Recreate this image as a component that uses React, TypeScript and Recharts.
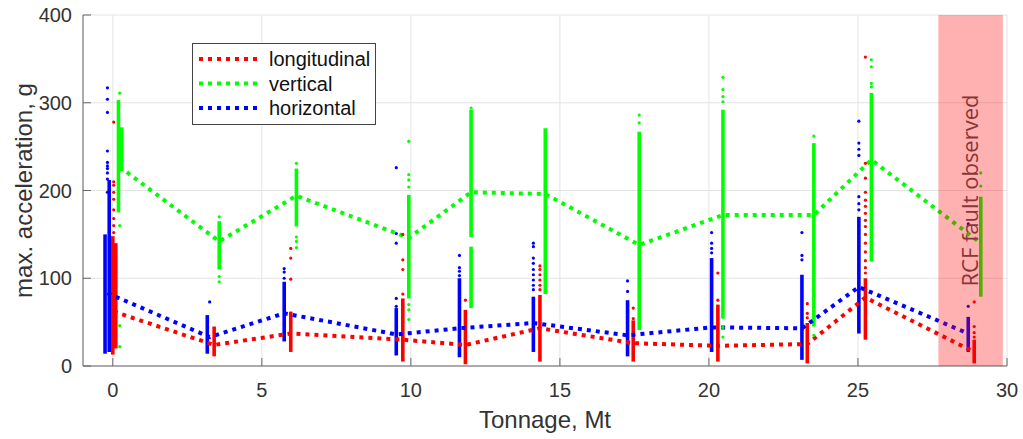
import {
  ComposedChart, Line, Scatter, XAxis, YAxis, CartesianGrid,
  ReferenceLine, ReferenceArea, Legend,
} from 'recharts'

const X_TICKS = [0, 5, 10, 15, 20, 25, 30]
const Y_TICKS = [0, 100, 200, 300, 400]

const FONT = '"Liberation Sans", Arial, sans-serif'

const COLOR = {
  longitudinal: '#ff0000',
  vertical: '#00ff00',
  horizontal: '#0000ff',
}
const LEGEND_NAMES = ['longitudinal', 'vertical', 'horizontal'] as const

// mean acceleration per measurement run (tonnage in Mt, value in g)
const LONG_X = [0.03, 3.4, 5.97, 9.73, 11.83, 14.33, 17.46, 20.3, 23.3, 25.25, 28.9]
const LONG_MEAN = [62, 24, 37, 30, 24, 43, 26, 23, 25, 78, 16]
const VERT_X = [0.23, 3.57, 6.16, 9.93, 12.02, 14.51, 17.66, 20.47, 23.52, 25.45, 29.12]
const VERT_MEAN = [227, 142, 194, 146, 198, 196, 138, 172, 172, 235, 140]
const HORIZ_X = [-0.18, 3.25, 5.75, 9.51, 11.63, 14.11, 17.27, 20.09, 23.12, 25.03, 28.7]
const HORIZ_MEAN = [83, 33, 60, 36, 43, 49, 35, 44, 43, 90, 37]

// dense runs of samples: [tonnage, lowest g, highest g]
const LONG_BANDS = [
  [0.0, 13, 148], [0.1, 20, 140], [3.4, 11, 45], [5.97, 16, 62], [9.73, 5, 77],
  [11.83, 2, 64], [14.33, 5, 81], [17.46, 5, 52], [20.3, 5, 70], [23.3, 3, 49],
  [25.25, 30, 100], [28.9, 3, 30],
]
const VERT_BANDS = [
  [0.19, 175, 303], [0.3, 222, 272], [3.57, 110, 165], [6.16, 159, 225], [9.93, 77, 195],
  [12.02, 147, 292], [12.02, 66, 136], [14.51, 82, 271], [17.66, 41, 267], [20.47, 54, 292],
  [23.52, 45, 254], [25.45, 119, 311], [29.12, 79, 193],
]
const HORIZ_BANDS = [
  [-0.26, 14, 150], [-0.12, 16, 212], [3.17, 14, 58], [5.75, 28, 96], [9.51, 12, 66],
  [11.63, 10, 100], [14.11, 16, 79], [17.27, 11, 75], [20.09, 16, 123], [23.12, 7, 104],
  [25.03, 37, 170], [28.7, 16, 56],
]

// isolated samples outside the dense runs, per run
const LONG_PTS = [
  [152, 160, 168, 178, 190, 198, 206, 210, 278], [], [99, 123, 134], [82, 110, 121, 150],
  [75], [87, 92, 98, 104, 110, 114], [54, 66], [75, 106], [55, 60, 71],
  [106, 112, 120, 130, 140, 150, 159, 166, 174, 182, 189, 198, 214, 231, 352], [33, 38, 45, 73],
]
const VERT_PTS = [
  [22, 46, 160, 311], [96, 102, 170], [135, 142, 147, 231], [53, 64, 70, 204, 212, 218, 256],
  [294], [], [277, 286], [33, 44, 301, 307, 315, 329], [35, 262], [318, 322, 341, 349], [205, 220],
]
const HORIZ_PTS = [
  [198, 213, 220, 225, 228, 232, 245, 289, 304, 317], [73], [100, 107, 111], [68, 77, 140, 151, 226],
  [103, 108, 112, 126], [87, 92, 98, 104, 110, 117, 123, 136, 140], [85, 97], [129, 134, 140, 152],
  [121, 126, 152], [178, 185, 193, 240, 247, 254, 279], [68, 162],
]

const FAULT_ZONE = [27.7, 29.86]

const toLine = (xs: number[], ys: number[]) => xs.map((x, i) => ({ x, y: ys[i] }))
const toPts = (xs: number[], pts: number[][]) =>
  xs.flatMap((x, i) => pts[i].map((y) => ({ x, y })))

const SERIES = [
  { name: 'longitudinal', color: COLOR.longitudinal, line: toLine(LONG_X, LONG_MEAN), pts: toPts(LONG_X, LONG_PTS), bands: LONG_BANDS },
  { name: 'vertical', color: COLOR.vertical, line: toLine(VERT_X, VERT_MEAN), pts: toPts(VERT_X, VERT_PTS), bands: VERT_BANDS },
  { name: 'horizontal', color: COLOR.horizontal, line: toLine(HORIZ_X, HORIZ_MEAN), pts: toPts(HORIZ_X, HORIZ_PTS), bands: HORIZ_BANDS },
]

function LegendBox() {
  return (
    <svg width={184} height={82} style={{ display: 'block' }}>
      <rect x={0.5} y={0.5} width={183} height={81} fill="#fff" stroke="#444" />
      {LEGEND_NAMES.map((n, i) => {
        const y = 16 + i * 24.5
        return (
          <g key={n}>
            <line x1={7} x2={69} y1={y} y2={y} stroke={COLOR[n]} strokeWidth={4} strokeDasharray="4 5" />
            <text x={77} y={y + 7} fontSize={20} fontFamily={FONT} fill="#111">{n}</text>
          </g>
        )
      })}
    </svg>
  )
}

const dot = (color: string) => (p: any) => <circle cx={p.cx} cy={p.cy} r={1.6} fill={color} />

export default function App() {
  return (
    <div style={{ position: 'absolute', left: 0, top: 0 }}>
      <ComposedChart width={1023} height={439} margin={{ top: 15, right: 16, bottom: 0, left: 0 }}>
        <CartesianGrid stroke="#e4e4e4" />
        <XAxis
          type="number" dataKey="x" domain={[-1, 30]} ticks={X_TICKS} allowDataOverflow
          height={73} tickSize={-8} tickMargin={25} stroke="#666"
          tick={{ fill: '#333', fontSize: 20, fontFamily: FONT }}
          label={{ value: 'Tonnage, Mt', position: 'insideBottom', offset: 11, fill: '#333', fontSize: 24, fontFamily: FONT }}
        />
        <XAxis
          xAxisId="top" orientation="top" type="number" domain={[-1, 30]} ticks={X_TICKS}
          height={0} tickSize={-8} stroke="#666" tickFormatter={() => ''}
        />
        <YAxis
          type="number" domain={[0, 400]} ticks={Y_TICKS} allowDataOverflow
          width={83} tickSize={-8} tickMargin={19} stroke="#666"
          tick={{ fill: '#333', fontSize: 20, fontFamily: FONT }}
          label={{ value: 'max. acceleration, g', angle: -90, position: 'insideLeft', offset: 23, fill: '#333', fontSize: 24, fontFamily: FONT, style: { textAnchor: 'middle' } }}
        />
        <YAxis
          yAxisId="right" orientation="right" type="number" domain={[0, 400]} ticks={Y_TICKS}
          width={0} tickSize={-8} stroke="#666" tickFormatter={() => ''}
        />
        <Legend
          layout="vertical" align="center" verticalAlign="middle"
          content={() => <LegendBox />}
          wrapperStyle={{ position: 'absolute', left: 192, top: 43, width: 184, height: 82 }}
        />

        {SERIES.map((s) =>
          s.bands.map(([x, lo, hi], i) => (
            <ReferenceLine
              key={`${s.name}-band-${i}`}
              segment={[{ x, y: lo }, { x, y: hi }]}
              stroke={s.color} strokeWidth={3.6}
            />
          ))
        )}
        {SERIES.map((s) => (
          <Scatter
            key={`${s.name}-pts`} data={s.pts} dataKey="y" legendType="none"
            shape={dot(s.color)} isAnimationActive={false}
          />
        ))}
        {SERIES.map((s) => (
          <Line
            key={`${s.name}-mean`} data={s.line} dataKey="y" name={s.name} type="linear"
            stroke={s.color} strokeWidth={4} strokeDasharray="4 5" dot={false}
            activeDot={false} isAnimationActive={false}
          />
        ))}

        <ReferenceArea
          x1={FAULT_ZONE[0]} x2={FAULT_ZONE[1]} y1={0} y2={400}
          fill="#ff0000" fillOpacity={0.31} stroke="none" zIndex={2000}
          label={{ value: 'RCF fault observed', position: 'center', angle: -90, fill: '#505050', fontSize: 22, fontFamily: '"Open Sans", sans-serif' }}
        />
      </ComposedChart>
    </div>
  )
}
